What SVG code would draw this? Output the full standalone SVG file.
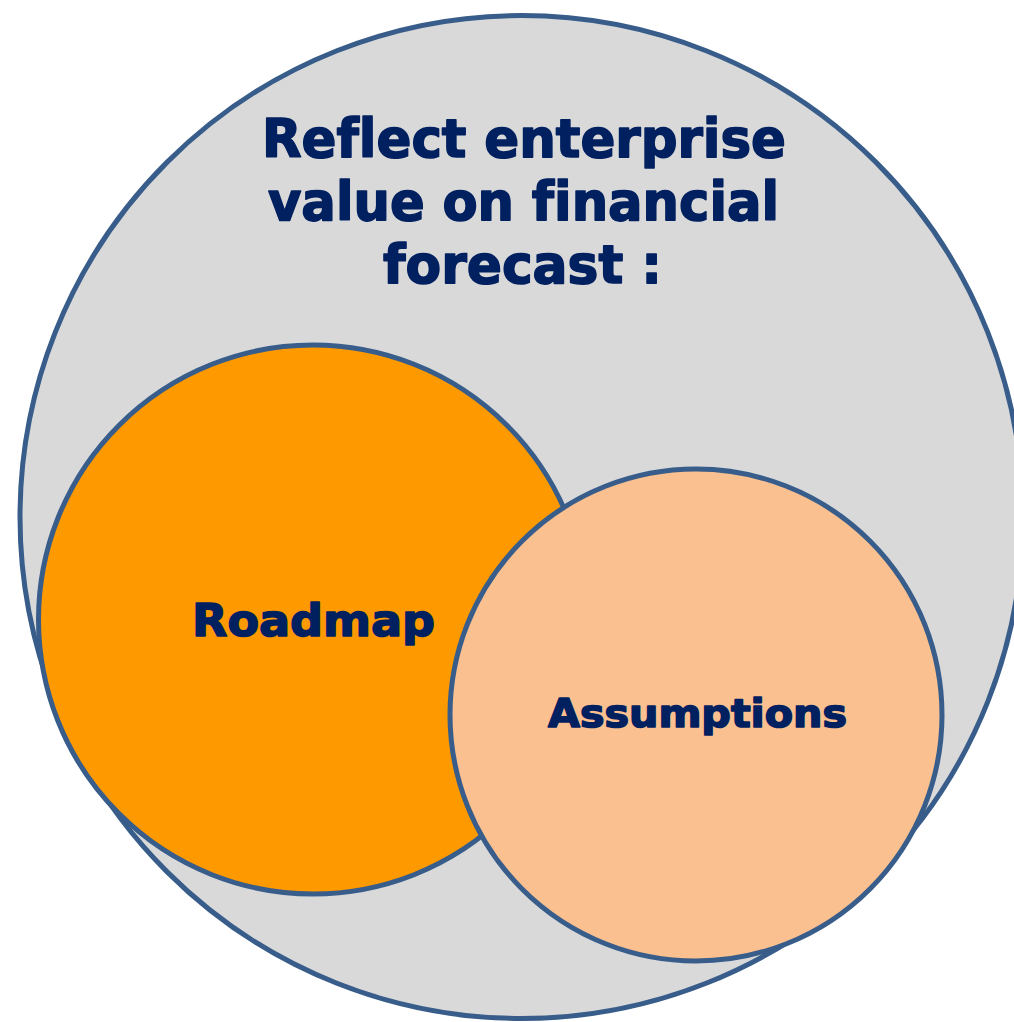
<svg xmlns="http://www.w3.org/2000/svg" width="1014" height="1022" viewBox="0 0 1014 1022">
  <style>
    .ring { stroke: #385D8A; stroke-width: 5; }
    .label { font-family: "DejaVu Sans", "Liberation Sans", sans-serif; font-weight: bold; fill: #002060; stroke: #002060; stroke-width: 1.6; stroke-linejoin: round; font-variant-ligatures: none; }
  </style>
  <rect width="1014" height="1022" fill="#ffffff"/>

  <!-- outer scope circle -->
  <g id="enterprise-value">
    <circle class="ring" cx="521.5" cy="517" r="501.5" fill="#D9D9D9"/>
    <text class="label" font-size="53">
      <tspan x="262" y="157" textLength="524" lengthAdjust="spacingAndGlyphs">Reflect enterprise</tspan>
      <tspan x="268" y="220" textLength="511" lengthAdjust="spacingAndGlyphs">value on financial</tspan>
      <tspan x="383" y="283" textLength="279" lengthAdjust="spacingAndGlyphs">forecast :</tspan>
    </text>
  </g>

  <g id="roadmap">
    <circle class="ring" cx="313" cy="619.5" r="274.5" fill="#FF9900"/>
    <text class="label" font-size="45" x="192" y="636" textLength="243" lengthAdjust="spacingAndGlyphs">Roadmap</text>
  </g>

  <g id="assumptions">
    <circle class="ring" cx="696" cy="715" r="246" fill="#FAC090"/>
    <text class="label" font-size="39" x="548" y="727" textLength="299" lengthAdjust="spacingAndGlyphs">Assumptions</text>
  </g>

  <g id="connectors"/>
</svg>
